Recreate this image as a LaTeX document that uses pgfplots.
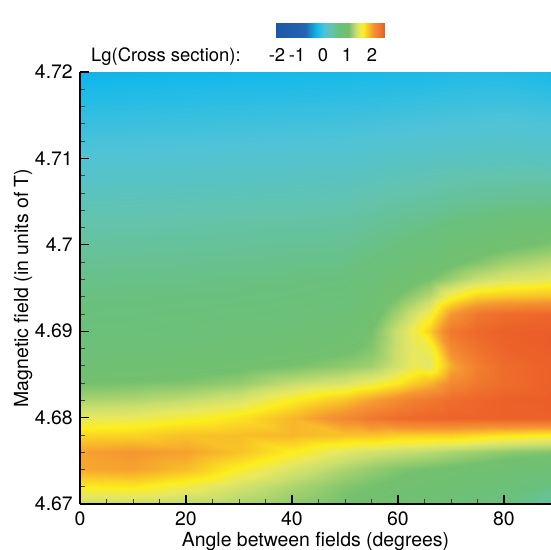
\documentclass[border=0pt]{standalone}
\usepackage{fontspec}
\setmainfont{TeX Gyre Heros}
\usepackage{pgfplots}
\pgfplotsset{compat=1.18}
\pgfplotsset{
  colormap={tecplot}{
    rgb255(0cm)=(30,88,165);
    rgb255(1.2cm)=(35,100,180);
    rgb255(1.7cm)=(20,185,235);
    rgb255(2cm)=(80,195,215);
    rgb255(2.3cm)=(100,195,170);
    rgb255(2.6cm)=(105,192,125);
    rgb255(3cm)=(115,192,110);
    rgb255(3.3cm)=(200,222,110);
    rgb255(3.45cm)=(232,232,95);
    rgb255(3.6cm)=(252,238,30);
    rgb255(4cm)=(245,150,50);
    rgb255(4.5cm)=(235,90,40)
  }
}
\begin{document}
\begin{tikzpicture}
\useasboundingbox (-80bp,-46bp) rectangle (471bp,504bp);
\begin{axis}[
  at={(0,0)}, anchor=south west,
  scale only axis, width=471bp, height=432bp,
  axis on top,
  xmin=0, xmax=88.9, ymin=4.67, ymax=4.72,
  axis x line*=bottom, axis y line*=left,
  axis line style={line width=1.3bp, black},
  xtick={0,20,40,60,80}, xticklabels={0,20,40,60,80},
  ytick={4.67,4.68,4.69,4.7,4.71,4.72},
  yticklabels={4.67,4.68,4.69,4.7,4.71,4.72},
  scaled y ticks=false, scaled x ticks=false,
  minor x tick num=3, minor y tick num=4,
  tick align=inside, major tick length=9bp, minor tick length=5bp,
  major tick style={line width=1.3bp, black},
  minor tick style={line width=0.7bp, black!75},
  ticklabel style={font=\fontsize{19.5}{22}\selectfont},
  xticklabel style={anchor=north, inner sep=0pt, yshift=-8bp},
  yticklabel style={anchor=east, inner sep=0pt, xshift=-7bp},
  label style={font=\fontsize{19.5}{22}\selectfont},
  xlabel={Angle between fields (degrees)},
  ylabel={Magnetic field (in units of T)},
  xlabel style={at={(axis description cs:0.5,-0.0995)}, anchor=base, inner sep=0pt},
  ylabel style={at={(axis description cs:-0.1104,0.5)}, anchor=base, rotate=0, inner sep=0pt},
  colormap name=tecplot,
  point meta min=-2, point meta max=2.5,
  colorbar horizontal,
  colorbar style={
    at={(0.4161,1.0787)}, anchor=south west,
    scale only axis, width=109bp, height=30bp,
    xtick=\empty, ytick=\empty, hide axis,
  },
]
\addplot [surf, shader=interp, mesh/cols=14, point meta=explicit]
  table [x=x, y=y, meta=z, row sep=\\] {
x y z\\
0 4.670 1.30\\ 10 4.670 1.30\\ 20 4.670 1.25\\ 30 4.670 1.20\\ 40 4.670 1.10\\ 50 4.670 1.00\\ 55 4.670 0.95\\ 60 4.670 0.90\\ 63 4.670 0.85\\ 66 4.670 0.82\\ 70 4.670 0.78\\ 75 4.670 0.70\\ 80 4.670 0.60\\ 89 4.670 0.35\\
0 4.672 1.60\\ 10 4.672 1.62\\ 20 4.672 1.50\\ 30 4.672 1.35\\ 40 4.672 1.20\\ 50 4.672 1.05\\ 55 4.672 1.00\\ 60 4.672 0.95\\ 63 4.672 0.92\\ 66 4.672 0.90\\ 70 4.672 0.85\\ 75 4.672 0.80\\ 80 4.672 0.72\\ 89 4.672 0.55\\
0 4.674 1.92\\ 10 4.674 1.95\\ 20 4.674 1.82\\ 30 4.674 1.58\\ 40 4.674 1.38\\ 50 4.674 1.20\\ 55 4.674 1.12\\ 60 4.674 1.05\\ 63 4.674 1.02\\ 66 4.674 1.00\\ 70 4.674 0.97\\ 75 4.674 0.92\\ 80 4.674 0.88\\ 89 4.674 0.80\\
0 4.676 1.95\\ 10 4.676 2.00\\ 20 4.676 1.95\\ 30 4.676 1.80\\ 40 4.676 1.60\\ 50 4.676 1.42\\ 55 4.676 1.35\\ 60 4.676 1.30\\ 63 4.676 1.28\\ 66 4.676 1.25\\ 70 4.676 1.20\\ 75 4.676 1.15\\ 80 4.676 1.10\\ 89 4.676 1.05\\
0 4.678 1.70\\ 10 4.678 1.72\\ 20 4.678 1.80\\ 30 4.678 1.82\\ 40 4.678 1.85\\ 50 4.678 1.80\\ 55 4.678 1.80\\ 60 4.678 1.75\\ 63 4.678 1.75\\ 66 4.678 1.75\\ 70 4.678 1.75\\ 75 4.678 1.70\\ 80 4.678 1.65\\ 89 4.678 1.60\\
0 4.680 1.45\\ 10 4.680 1.47\\ 20 4.680 1.55\\ 30 4.680 1.65\\ 40 4.680 1.85\\ 50 4.680 2.10\\ 55 4.680 2.25\\ 60 4.680 2.35\\ 63 4.680 2.38\\ 66 4.680 2.40\\ 70 4.680 2.42\\ 75 4.680 2.42\\ 80 4.680 2.45\\ 89 4.680 2.45\\
0 4.682 1.20\\ 10 4.682 1.22\\ 20 4.682 1.28\\ 30 4.682 1.38\\ 40 4.682 1.60\\ 50 4.682 1.80\\ 55 4.682 1.95\\ 60 4.682 2.10\\ 63 4.682 2.20\\ 66 4.682 2.25\\ 70 4.682 2.35\\ 75 4.682 2.40\\ 80 4.682 2.45\\ 89 4.682 2.48\\
0 4.684 1.00\\ 10 4.684 1.02\\ 20 4.684 1.05\\ 30 4.684 1.12\\ 40 4.684 1.28\\ 50 4.684 1.38\\ 55 4.684 1.48\\ 60 4.684 1.62\\ 63 4.684 1.75\\ 66 4.684 1.85\\ 70 4.684 2.10\\ 75 4.684 2.25\\ 80 4.684 2.35\\ 89 4.684 2.45\\
0 4.686 0.85\\ 10 4.686 0.87\\ 20 4.686 0.90\\ 30 4.686 0.95\\ 40 4.686 1.02\\ 50 4.686 1.10\\ 55 4.686 1.16\\ 60 4.686 1.35\\ 63 4.686 1.47\\ 66 4.686 1.42\\ 70 4.686 1.90\\ 75 4.686 2.20\\ 80 4.686 2.35\\ 89 4.686 2.45\\
0 4.688 0.75\\ 10 4.688 0.77\\ 20 4.688 0.80\\ 30 4.688 0.84\\ 40 4.688 0.88\\ 50 4.688 0.96\\ 55 4.688 1.05\\ 60 4.688 1.33\\ 63 4.688 1.46\\ 66 4.688 1.50\\ 70 4.688 2.10\\ 75 4.688 2.30\\ 80 4.688 2.42\\ 89 4.688 2.48\\
0 4.690 0.68\\ 10 4.690 0.70\\ 20 4.690 0.72\\ 30 4.690 0.76\\ 40 4.690 0.80\\ 50 4.690 0.88\\ 55 4.690 1.00\\ 60 4.690 1.32\\ 63 4.690 1.50\\ 66 4.690 1.75\\ 70 4.690 2.25\\ 75 4.690 2.38\\ 80 4.690 2.45\\ 89 4.690 2.48\\
0 4.692 0.62\\ 10 4.692 0.64\\ 20 4.692 0.66\\ 30 4.692 0.69\\ 40 4.692 0.72\\ 50 4.692 0.78\\ 55 4.692 0.90\\ 60 4.692 1.18\\ 63 4.692 1.35\\ 66 4.692 1.52\\ 70 4.692 2.00\\ 75 4.692 2.25\\ 80 4.692 2.35\\ 89 4.692 2.40\\
0 4.694 0.58\\ 10 4.694 0.59\\ 20 4.694 0.60\\ 30 4.694 0.62\\ 40 4.694 0.65\\ 50 4.694 0.70\\ 55 4.694 0.82\\ 60 4.694 1.02\\ 63 4.694 1.13\\ 66 4.694 1.25\\ 70 4.694 1.55\\ 75 4.694 1.75\\ 80 4.694 1.80\\ 89 4.694 1.85\\
0 4.696 0.52\\ 10 4.696 0.53\\ 20 4.696 0.54\\ 30 4.696 0.56\\ 40 4.696 0.58\\ 50 4.696 0.62\\ 55 4.696 0.72\\ 60 4.696 0.86\\ 63 4.696 0.94\\ 66 4.696 1.02\\ 70 4.696 1.15\\ 75 4.696 1.30\\ 80 4.696 1.38\\ 89 4.696 1.45\\
0 4.698 0.45\\ 10 4.698 0.46\\ 20 4.698 0.47\\ 30 4.698 0.49\\ 40 4.698 0.51\\ 50 4.698 0.54\\ 55 4.698 0.62\\ 60 4.698 0.72\\ 63 4.698 0.78\\ 66 4.698 0.85\\ 70 4.698 0.95\\ 75 4.698 1.05\\ 80 4.698 1.15\\ 89 4.698 1.25\\
0 4.700 0.38\\ 10 4.700 0.39\\ 20 4.700 0.40\\ 30 4.700 0.42\\ 40 4.700 0.44\\ 50 4.700 0.46\\ 55 4.700 0.52\\ 60 4.700 0.60\\ 63 4.700 0.65\\ 66 4.700 0.70\\ 70 4.700 0.80\\ 75 4.700 0.88\\ 80 4.700 0.95\\ 89 4.700 1.05\\
0 4.705 0.20\\ 10 4.705 0.21\\ 20 4.705 0.22\\ 30 4.705 0.23\\ 40 4.705 0.24\\ 50 4.705 0.26\\ 55 4.705 0.30\\ 60 4.705 0.34\\ 63 4.705 0.36\\ 66 4.705 0.38\\ 70 4.705 0.42\\ 75 4.705 0.45\\ 80 4.705 0.48\\ 89 4.705 0.50\\
0 4.710 0.02\\ 10 4.710 0.03\\ 20 4.710 0.04\\ 30 4.710 0.05\\ 40 4.710 0.06\\ 50 4.710 0.07\\ 55 4.710 0.09\\ 60 4.710 0.11\\ 63 4.710 0.12\\ 66 4.710 0.13\\ 70 4.710 0.14\\ 75 4.710 0.15\\ 80 4.710 0.16\\ 89 4.710 0.15\\
0 4.715 -0.15\\ 10 4.715 -0.14\\ 20 4.715 -0.13\\ 30 4.715 -0.12\\ 40 4.715 -0.11\\ 50 4.715 -0.10\\ 55 4.715 -0.09\\ 60 4.715 -0.08\\ 63 4.715 -0.07\\ 66 4.715 -0.06\\ 70 4.715 -0.05\\ 75 4.715 -0.04\\ 80 4.715 -0.03\\ 89 4.715 -0.05\\
0 4.720 -0.35\\ 10 4.720 -0.33\\ 20 4.720 -0.32\\ 30 4.720 -0.31\\ 40 4.720 -0.30\\ 50 4.720 -0.29\\ 55 4.720 -0.28\\ 60 4.720 -0.27\\ 63 4.720 -0.27\\ 66 4.720 -0.26\\ 70 4.720 -0.25\\ 75 4.720 -0.24\\ 80 4.720 -0.24\\ 89 4.720 -0.28\\
};
\end{axis}
\begin{scope}[every node/.style={font=\fontsize{18.5}{22}\selectfont, inner sep=0pt}]
\node[anchor=base west] at (11bp,442bp) {Lg(Cross section):};
\node[anchor=base] at (197bp,442bp) {-2};
\node[anchor=base] at (217bp,442bp) {-1};
\node[anchor=base] at (243bp,442bp) {0};
\node[anchor=base] at (267bp,442bp) {1};
\node[anchor=base] at (292bp,442bp) {2};
\end{scope}
\end{tikzpicture}
\end{document}
